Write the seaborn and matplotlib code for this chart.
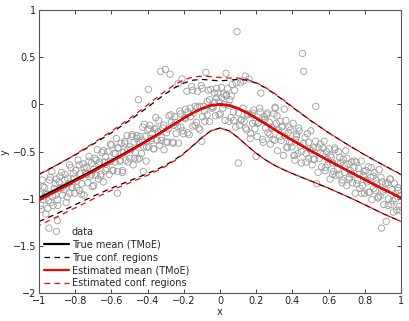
import numpy as np
import pandas as pd
import matplotlib
matplotlib.use("Agg")
import matplotlib.pyplot as plt
import seaborn as sns

# ---------------- curves ----------------
x_curve = [-1.0, -0.9, -0.8, -0.7, -0.6, -0.5, -0.4, -0.35, -0.3, -0.25, -0.2, -0.15, -0.1, -0.05,
           0.0, 0.05, 0.1, 0.15, 0.2, 0.25, 0.3, 0.35, 0.4, 0.5, 0.6, 0.7, 0.8, 0.9, 1.0]

true_mean = [-0.99, -0.895, -0.797, -0.697, -0.595, -0.49, -0.38, -0.323, -0.264, -0.204, -0.145, -0.09, -0.043, -0.011,
             0.0, -0.011, -0.043, -0.09, -0.145, -0.204, -0.264, -0.323, -0.38, -0.49, -0.595, -0.697, -0.797, -0.895, -0.99]
true_upper = [-0.74, -0.64, -0.535, -0.42, -0.30, -0.17, -0.03, 0.044, 0.114, 0.177, 0.226, 0.257, 0.265, 0.257,
              0.25, 0.257, 0.265, 0.257, 0.226, 0.177, 0.114, 0.044, -0.03, -0.17, -0.30, -0.42, -0.535, -0.64, -0.74]
true_lower = [-1.24, -1.156, -1.062, -0.972, -0.887, -0.809, -0.732, -0.69, -0.643, -0.586, -0.517, -0.437, -0.351, -0.279,
              -0.25, -0.279, -0.351, -0.437, -0.517, -0.586, -0.643, -0.69, -0.732, -0.809, -0.887, -0.972, -1.062, -1.156, -1.24]

est_mean = [-1.015, -0.915, -0.812, -0.71, -0.605, -0.498, -0.386, -0.328, -0.268, -0.207, -0.147, -0.091, -0.043, -0.01,
            0.002, -0.008, -0.04, -0.087, -0.142, -0.201, -0.261, -0.32, -0.378, -0.488, -0.593, -0.695, -0.795, -0.893, -0.988]
est_upper = [-0.745, -0.64, -0.53, -0.41, -0.285, -0.15, -0.005, 0.072, 0.145, 0.21, 0.26, 0.29, 0.30, 0.295,
             0.285, 0.28, 0.28, 0.265, 0.23, 0.18, 0.118, 0.048, -0.025, -0.168, -0.30, -0.42, -0.533, -0.64, -0.745]
est_lower = [-1.28, -1.19, -1.095, -1.0, -0.91, -0.83, -0.75, -0.705, -0.655, -0.595, -0.523, -0.44, -0.352, -0.28,
             -0.25, -0.279, -0.351, -0.437, -0.517, -0.586, -0.643, -0.69, -0.732, -0.809, -0.887, -0.972, -1.062, -1.156, -1.24]

# ---------------- scattered data ----------------
data_x = [
    -0.995, -0.988, -0.982, -0.975, -0.969, -0.962, -0.955, -0.949, -0.942, -0.936,
    -0.929, -0.922, -0.916, -0.909, -0.903, -0.896, -0.889, -0.883, -0.876, -0.870,
    -0.863, -0.856, -0.850, -0.843, -0.837, -0.830, -0.823, -0.817, -0.810, -0.804,
    -0.797, -0.790, -0.784, -0.777, -0.771, -0.764, -0.757, -0.751, -0.744, -0.738,
    -0.731, -0.724, -0.718, -0.711, -0.705, -0.698, -0.691, -0.685, -0.678, -0.672,
    -0.665, -0.658, -0.652, -0.645, -0.639, -0.632, -0.625, -0.619, -0.612, -0.606,
    -0.599, -0.592, -0.586, -0.579, -0.573, -0.566, -0.559, -0.553, -0.546, -0.540,
    -0.533, -0.526, -0.520, -0.513, -0.507, -0.500, -0.493, -0.487, -0.480, -0.474,
    -0.467, -0.460, -0.454, -0.447, -0.441, -0.434, -0.427, -0.421, -0.414, -0.408,
    -0.401, -0.394, -0.388, -0.381, -0.375, -0.368, -0.361, -0.355, -0.348, -0.342,
    -0.335, -0.328, -0.322, -0.315, -0.309, -0.302, -0.295, -0.289, -0.282, -0.276,
    -0.269, -0.262, -0.256, -0.249, -0.243, -0.236, -0.229, -0.223, -0.216, -0.210,
    -0.203, -0.196, -0.190, -0.183, -0.177, -0.170, -0.163, -0.157, -0.150, -0.144,
    -0.137, -0.130, -0.124, -0.117, -0.111, -0.104, -0.097, -0.091, -0.084, -0.078,
    -0.071, -0.065, -0.058, -0.051, -0.045, -0.038, -0.031, -0.025, -0.018, -0.012,
    -0.005, 0.002, 0.008, 0.015, 0.021, 0.028, 0.035, 0.041, 0.048, 0.054,
    0.061, 0.068, 0.074, 0.081, 0.087, 0.094, 0.101, 0.107, 0.114, 0.120,
    0.127, 0.134, 0.140, 0.147, 0.153, 0.160, 0.167, 0.173, 0.180, 0.186,
    0.193, 0.199, 0.206, 0.213, 0.219, 0.226, 0.232, 0.239, 0.245, 0.252,
    0.259, 0.265, 0.272, 0.278, 0.285, 0.292, 0.298, 0.305, 0.311, 0.318,
    0.325, 0.331, 0.338, 0.344, 0.351, 0.357, 0.364, 0.371, 0.377, 0.384,
    0.390, 0.397, 0.404, 0.410, 0.417, 0.423, 0.430, 0.437, 0.443, 0.450,
    0.456, 0.463, 0.470, 0.476, 0.483, 0.489, 0.496, 0.502, 0.509, 0.516,
    0.522, 0.529, 0.535, 0.542, 0.549, 0.555, 0.562, 0.568, 0.575, 0.582,
    0.588, 0.595, 0.601, 0.608, 0.615, 0.621, 0.628, 0.634, 0.641, 0.648,
    0.654, 0.661, 0.667, 0.674, 0.681, 0.687, 0.694, 0.700, 0.707, 0.714,
    0.720, 0.727, 0.733, 0.740, 0.747, 0.753, 0.760, 0.766, 0.773, 0.780,
    0.786, 0.793, 0.799, 0.806, 0.813, 0.819, 0.826, 0.832, 0.839, 0.846,
    0.852, 0.859, 0.865, 0.872, 0.879, 0.885, 0.892, 0.898, 0.905, 0.911,
    0.918, 0.925, 0.931, 0.938, 0.945, 0.951, 0.958, 0.964, 0.971, 0.977,
    0.984, 0.990, 0.996,
    -0.991, -0.978, -0.965, -0.951, -0.938, -0.925, -0.911, -0.898, -0.885, -0.871,
    -0.858, -0.845, -0.831, -0.818, -0.805, -0.791, -0.778, -0.765, -0.751, -0.738,
    -0.725, -0.711, -0.698, -0.685, -0.671, -0.658, -0.645, -0.631, -0.618, -0.605,
    -0.591, -0.578, -0.565, -0.551, -0.538, -0.525, -0.511, -0.498, -0.485, -0.471,
    -0.458, -0.445, -0.431, -0.418, -0.405, -0.391, -0.378, -0.365, -0.351, -0.338,
    -0.325, -0.311, -0.298, -0.285, -0.271, -0.258, -0.245, -0.231, -0.218, -0.205,
    -0.191, -0.178, -0.165, -0.151, -0.138, -0.125, -0.111, -0.098, -0.085, -0.071,
    -0.058, -0.045, -0.031, -0.018, -0.005, 0.009, 0.022, 0.035, 0.049, 0.062,
    0.075, 0.089, 0.102, 0.115, 0.129, 0.142, 0.155, 0.169, 0.182, 0.195,
    0.209, 0.222, 0.235, 0.249, 0.262, 0.275, 0.289, 0.302, 0.315, 0.329,
    0.342, 0.355, 0.369, 0.382, 0.395, 0.409, 0.422, 0.435, 0.449, 0.462,
    0.475, 0.489, 0.502, 0.515, 0.529, 0.542, 0.555, 0.569, 0.582, 0.595,
    0.609, 0.622, 0.635, 0.649, 0.662, 0.675, 0.689, 0.702, 0.715, 0.729,
    0.742, 0.755, 0.769, 0.782, 0.795, 0.809, 0.822, 0.835, 0.849, 0.862,
    0.875, 0.889, 0.902, 0.915, 0.929, 0.942, 0.955, 0.969, 0.982, 0.995,
    -0.396, -0.451, 0.033, -0.424, -0.101, -0.567, -0.945, -0.899, 0.414, 0.304,
]
data_y = [
    -0.95, -1.11, -0.80, -1.01, -0.88, -1.16, -0.95, -1.02, -0.80, -1.04,
    -0.71, -1.07, -0.89, -0.96, -0.79, -1.07, -0.82, -0.89, -0.72, -0.96,
    -0.90, -0.74, -1.04, -0.78, -0.84, -0.94, -0.67, -0.88, -0.73, -0.94,
    -0.70, -0.81, -0.59, -0.91, -0.73, -0.84, -0.63, -0.96, -0.72, -0.67,
    -0.83, -0.55, -0.76, -0.62, -0.87, -0.69, -0.57, -0.75, -0.48, -0.79,
    -0.61, -0.74, -0.51, -0.82, -0.61, -0.55, -0.68, -0.50, -0.74, -0.60,
    -0.43, -0.70, -0.52, -0.61, -0.36, -0.71, -0.46, -0.60, -0.41, -0.72,
    -0.51, -0.41, -0.59, -0.33, -0.61, -0.45, -0.48, -0.34, -0.64, -0.40,
    -0.51, -0.33, -0.58, -0.40, -0.34, -0.52, -0.24, -0.45, -0.34, -0.60,
    -0.27, -0.45, -0.22, -0.36, -0.31, -0.47, -0.26, -0.14, -0.38, -0.29,
    -0.43, 0.35, -0.35, -0.25, -0.48, 0.37, -0.30, -0.40, -0.12, 0.32,
    -0.19, -0.40, -0.22, -0.13, -0.31, -0.23, -0.41, -0.07, -0.24, 0.27,
    -0.31, -0.14, -0.05, 0.14, -0.08, -0.32, -0.13, 0.19, -0.23, -0.09,
    -0.02, -0.19, 0.14, -0.25, -0.02, 0.20, -0.13, -0.02, -0.18, 0.34,
    -0.11, 0.15, -0.18, 0.16, -0.04, -0.03, 0.12, -0.12, 0.07, 0.12,
    0.03, -0.10, 0.18, -0.04, 0.11, -0.17, 0.10, 0.17, -0.01, 0.05,
    -0.14, 0.21, -0.08, 0.15, -0.24, 0.77, -0.62, -0.22, 0.23, -0.16,
    -0.04, -0.18, 0.30, -0.27, -0.11, 0.27, -0.36, -0.11, -0.20, -0.06,
    -0.26, -0.55, -0.34, -0.19, -0.04, 0.12, -0.16, -0.40, -0.13, -0.25,
    -0.11, -0.30, -0.19, -0.42, -0.24, -0.37, -0.10, -0.04, -0.20, -0.49,
    -0.27, -0.18, -0.38, -0.23, -0.54, -0.33, -0.17, -0.46, -0.30, -0.40,
    -0.27, -0.45, -0.20, -0.54, -0.37, -0.32, -0.52, -0.28, -0.44, -0.62,
    0.54, 0.35, -0.35, -0.52, -0.31, -0.57, -0.47, -0.28, -0.64, -0.46,
    -0.58, -0.02, -0.84, -0.46, -0.57, -0.42, -0.66, -0.53, -0.39, -0.70,
    -0.50, -0.64, -0.47, -0.79, -0.56, -0.62, -0.71, -0.46, -0.75, -0.62,
    -0.50, -0.75, -0.62, -0.80, -0.58, -0.72, -0.49, -0.86, -0.63, -0.77,
    -0.70, -0.61, -0.83, -0.67, -0.94, -0.61, -0.80, -0.68, -0.89, -0.60,
    -0.86, -0.75, -0.94, -0.70, -0.82, -0.66, -0.93, -0.77, -1.01, -0.76,
    -0.72, -0.91, -0.84, -0.99, -0.69, -0.97, -1.31, -0.82, -1.06, -0.90,
    -1.24, -0.83, -1.00, -0.79, -1.06, -0.90, -1.14, -0.84, -1.00, -1.12,
    -0.91, -1.08, -0.97,
    -1.07, -0.87, -0.95, -1.10, -0.77, -0.97, -0.84, -1.01, -0.76, -0.88,
    -0.80, -0.98, -0.64, -0.88, -0.78, -0.88, -0.64, -0.95, -0.67, -0.74,
    -0.60, -0.74, -0.86, -0.59, -0.63, -0.76, -0.49, -0.70, -0.61, -0.42,
    -0.70, -0.52, -0.46, -0.59, -0.70, -0.39, -0.48, -0.57, -0.32, -0.57,
    -0.36, -0.57, -0.38, -0.21, -0.45, -0.26, -0.38, -0.47, -0.25, -0.17,
    -0.38, -0.22, -0.40, -0.26, -0.11, -0.41, -0.19, 0.22, -0.10, -0.28,
    -0.15, -0.30, -0.04, 0.15, -0.22, -0.03, -0.27, 0.17, -0.07, 0.03,
    0.05, -0.02, 0.02, 0.17, -0.11, 0.07, 0.00, 0.09, -0.18, 0.09,
    -0.17, 0.23, -0.09, -0.17, 0.25, -0.25, -0.10, -0.31, -0.09, -0.18,
    -0.20, -0.08, -0.37, -0.16, -0.09, -0.32, -0.25, -0.38, -0.12, -0.34,
    -0.24, -0.05, -0.45, -0.24, -0.40, -0.54, -0.34, -0.25, -0.50, -0.41,
    -0.61, -0.40, -0.49, -0.58, -0.39, -0.72, -0.51, -0.46, -0.67, -0.58,
    -0.54, -0.74, -0.48, -0.68, -0.56, -0.83, -0.65, -0.57, -0.79, -0.74,
    -0.60, -0.84, -0.74, -0.94, -0.71, -0.80, -0.93, -0.67, -0.89, -0.80,
    -0.98, -0.77, -0.92, -0.84, -1.07, -0.79, -1.02, -0.94, -0.88, -1.12,
    0.16, 0.05, 0.33, -0.71, -0.39, -0.94, -1.31, -1.23, -0.59, -0.03,
]

x_ticks = [-1, -0.8, -0.6, -0.4, -0.2, 0, 0.2, 0.4, 0.6, 0.8, 1]
y_ticks = [-2, -1.5, -1, -0.5, 0, 0.5, 1]

sns.set_style("ticks")
plt.rcParams["font.family"] = ["DejaVu Sans"]
plt.rcParams["axes.unicode_minus"] = True

fig = plt.figure(figsize=(4.09, 3.21), dpi=100)
ax = fig.add_axes([39 / 409, 1 - 293.3 / 321, 362 / 409, 283.3 / 321])

df_data = pd.DataFrame({"x": data_x, "y": data_y})
df_c = pd.DataFrame({"x": x_curve, "tm": true_mean, "tu": true_upper, "tl": true_lower,
                     "em": est_mean, "eu": est_upper, "el": est_lower})

sns.scatterplot(data=df_data, x="x", y="y", ax=ax, marker="o", s=21,
                facecolors="none", edgecolor="#9c9c9c", linewidth=0.6, legend=False)

dash = (0, (4.5, 3.5))
lkw = dict(ax=ax, legend=False, sort=True, estimator=None)
sns.lineplot(data=df_c, x="x", y="tm", color="black", linewidth=1.6, **lkw)
sns.lineplot(data=df_c, x="x", y="tu", color="black", linewidth=0.9, linestyle=dash, **lkw)
sns.lineplot(data=df_c, x="x", y="tl", color="black", linewidth=0.9, linestyle=dash, **lkw)
sns.lineplot(data=df_c, x="x", y="em", color="#ff0000", linewidth=1.6, **lkw)
sns.lineplot(data=df_c, x="x", y="eu", color="#ff0000", linewidth=0.9, linestyle=(3, (4.5, 3.5)), **lkw)
sns.lineplot(data=df_c, x="x", y="el", color="#ff0000", linewidth=0.9, linestyle=(3, (4.5, 3.5)), **lkw)

ax.set_xlim(-1, 1)
ax.set_ylim(-2, 1)
ax.set_xticks(x_ticks)
ax.set_yticks(y_ticks)
ax.set_xticklabels([("%g" % t).replace("-", "\u2212") for t in x_ticks])
ax.set_yticklabels([("%g" % t).replace("-", "\u2212") for t in y_ticks])
ax.tick_params(direction="in", length=3, width=0.6, labelsize=7, top=True, right=True, pad=2, colors="#222222")
for s in ax.spines.values():
    s.set_visible(True)
    s.set_linewidth(0.8)
    s.set_color("#555555")
ax.set_xlabel("x", fontsize=7, labelpad=1)
ax.set_ylabel("y", fontsize=7, labelpad=2)

from matplotlib.lines import Line2D
handles = [
    Line2D([], [], linestyle="none", marker="o", markersize=4.5, markerfacecolor="none",
           markeredgecolor="#9c9c9c", markeredgewidth=0.6),
    Line2D([], [], color="black", linewidth=1.6),
    Line2D([], [], color="black", linewidth=0.9, linestyle=dash),
    Line2D([], [], color="#ff0000", linewidth=1.6),
    Line2D([], [], color="#ff0000", linewidth=0.9, linestyle=dash),
]
labels = ["data", "True mean (TMoE)", "True conf. regions", "Estimated mean (TMoE)", "Estimated conf. regions"]
ax.legend(handles, labels, loc="lower left", bbox_to_anchor=(0.0, 0.0), frameon=False, fontsize=7,
          handlelength=2.6, handletextpad=0.25, labelspacing=0.3, borderaxespad=0.3, borderpad=0.2)

fig.savefig("out.png", dpi=100)
